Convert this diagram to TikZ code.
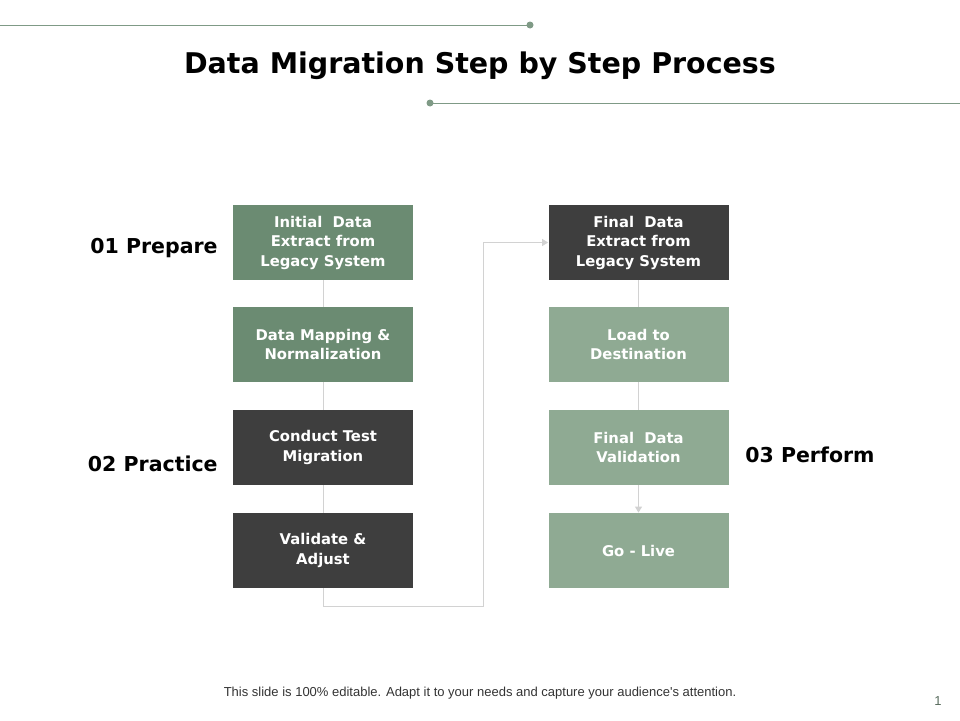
\documentclass[tikz,border=0pt]{standalone}
\usepackage{fontspec}
\setmainfont{DejaVu Sans}
\newfontfamily\footfont{Liberation Sans}
\usetikzlibrary{arrows.meta}
\definecolor{sagedark}{HTML}{6B8B72}
\definecolor{sagelight}{HTML}{8FAA93}
\definecolor{coal}{HTML}{3E3E3E}
\definecolor{rulegreen}{HTML}{7F9A86}
\definecolor{linkgrey}{HTML}{D2D2D2}
\tikzset{every picture/.style={line width=0.75pt}}
\tikzset{
  stepbox/.style={minimum width=180pt, minimum height=75pt, inner sep=0pt, align=center,
    text=white, font=\fontsize{14.8}{19.5}\selectfont\bfseries},
  phase/.style={font=\fontsize{20.5}{22}\selectfont\bfseries, inner sep=0pt},
  link/.style={draw=linkgrey, line width=1pt},
}

\begin{document}
\begin{tikzpicture}[x=1pt,y=-1pt]
		\useasboundingbox (0,0) rectangle (960,720);
		\draw[rulegreen, line width=1pt] (0,25) -- (530,25);
		\fill[rulegreen] (530,25) circle (3.5);
		\draw[rulegreen, line width=1pt] (430,103) -- (960,103);
		\fill[rulegreen] (430,103) circle (3.5);
		\node (title) at (480,66) {\fontsize{28.5}{32}\selectfont\bfseries Data Migration Step by Step Process};
		\node[stepbox, fill=sagedark] (init) at (323,242.5) {Initial\ \ Data\\Extract from\\Legacy System};
		\node[stepbox, fill=sagedark] (map) at (323,344.5) {Data Mapping \&\\Normalization};
		\node[stepbox, fill=coal] (test) at (323,447.5) {Conduct Test\\Migration};
		\node[stepbox, fill=coal] (adjust) at (323,550.5) {Validate \&\\Adjust};
		\node[stepbox, fill=coal] (final) at (638.5,242.5) {Final\ \ Data\\Extract from\\Legacy System};
		\node[stepbox, fill=sagelight] (load) at (638.5,344.5) {Load to\\Destination};
		\node[stepbox, fill=sagelight] (valid) at (638.5,447.5) {Final\ \ Data\\Validation};
		\node[stepbox, fill=sagelight] (live) at (638.5,550.5) {Go - Live};
		\node[phase, anchor=east] (prepare) at (218,248) {01 Prepare};
		\node[phase, anchor=east] (practice) at (218,464) {02 Practice};
		\node[phase, anchor=west] (perform) at (745,455) {03 Perform};
		\coordinate (turn) at (483,606);
		\draw[link] (init) -- (map);
		\draw[link] (map) -- (test);
		\draw[link] (test) -- (adjust);
		\draw[link, -{Triangle[width=7pt,length=6pt]}] (adjust.south) |- (turn) |- (final.west);
		\draw[link] (final) -- (load);
		\draw[link] (load) -- (valid);
		\draw[link, -{Triangle[width=7pt,length=6pt]}] (valid) -- (live);
		\node (note) at (480,693) {\footfont\fontsize{13}{15}\selectfont\color{black!80} This slide is 100\% editable. Adapt it to your needs and capture your audience's attention.};
		\node (page) at (938,701) {\footfont\fontsize{13}{15}\selectfont\color{rulegreen!70!black}1};
	\end{tikzpicture}
\end{document}
